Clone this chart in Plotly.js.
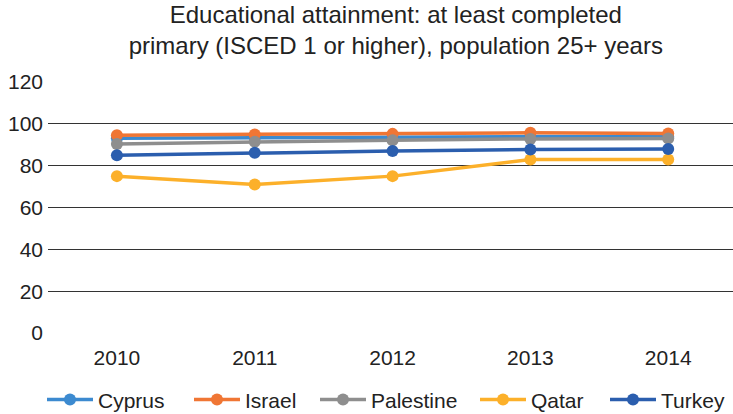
<!DOCTYPE html>
<html><head><meta charset="utf-8">
<script src="https://cdn.plot.ly/plotly-3.0.1.min.js"></script>
<style>body{margin:0;background:#fff}#chart{width:733px;height:414px}</style>
</head><body><div id="chart"></div>
<script>
const years = ["2010","2011","2012","2013","2014"];
const cyprus = [93.1, 93.5, 93.8, 93.9, 93.8];
const israel = [94.6, 94.9, 95.2, 95.7, 95.4];
const palestine = [90.4, 91.4, 92.2, 92.8, 93.0];
const qatar = [75.0, 71.0, 75.0, 82.9, 83.0];
const turkey = [85.0, 86.2, 87.0, 87.7, 88.0];
const names = ["Cyprus","Israel","Palestine","Qatar","Turkey"];
const colors = ["#3c8ad0","#f07634","#8e8e8e","#fcb02a","#2b5eae"];
const series = [cyprus, israel, palestine, qatar, turkey];
const legendIds = ["legend","legend2","legend3","legend4","legend5"];
const legendX = [42, 189, 315, 475, 605];

const traces = series.map((s,i)=>({
  x: years, y: s, name: names[i], type:"scatter", mode:"lines+markers",
  line:{color:colors[i], width:3.5}, marker:{color:colors[i], size:12},
  legend: legendIds[i]
}));

const layout = {
  width:733, height:414,
  margin:{l:48, r:0, t:82, b:81},
  paper_bgcolor:"#fff", plot_bgcolor:"#fff",
  font:{family:"Liberation Sans, Arial, sans-serif", color:"#222", size:21},
  title:{text:"Educational attainment: at least completed<br>primary (ISCED 1 or higher), population 25+ years",
    font:{size:24, color:"#222"}, x:0.54, xanchor:"center", yref:"container", y:0.945, yanchor:"middle"},
  xaxis:{type:"category", range:[-0.5,4.47], showgrid:false, zeroline:false, showline:false,
    ticks:"", tickfont:{size:21}, ticklabelstandoff:10},
  yaxis:{range:[0,120], dtick:20, showgrid:true, gridcolor:"#333", gridwidth:1.3,
    zeroline:false, showline:false, ticks:"", tickfont:{size:21}, ticklabelstandoff:4},
  showlegend:true
};
legendIds.forEach((id,i)=>{
  layout[id] = {orientation:"h", x:legendX[i]/733, xanchor:"left", xref:"container", yref:"container",
    y:0.034, yanchor:"middle", font:{size:21}, itemwidth:46, bgcolor:"rgba(0,0,0,0)"};
});
Plotly.newPlot("chart", traces, layout, {displayModeBar:false, staticPlot:true});
</script></body></html>
